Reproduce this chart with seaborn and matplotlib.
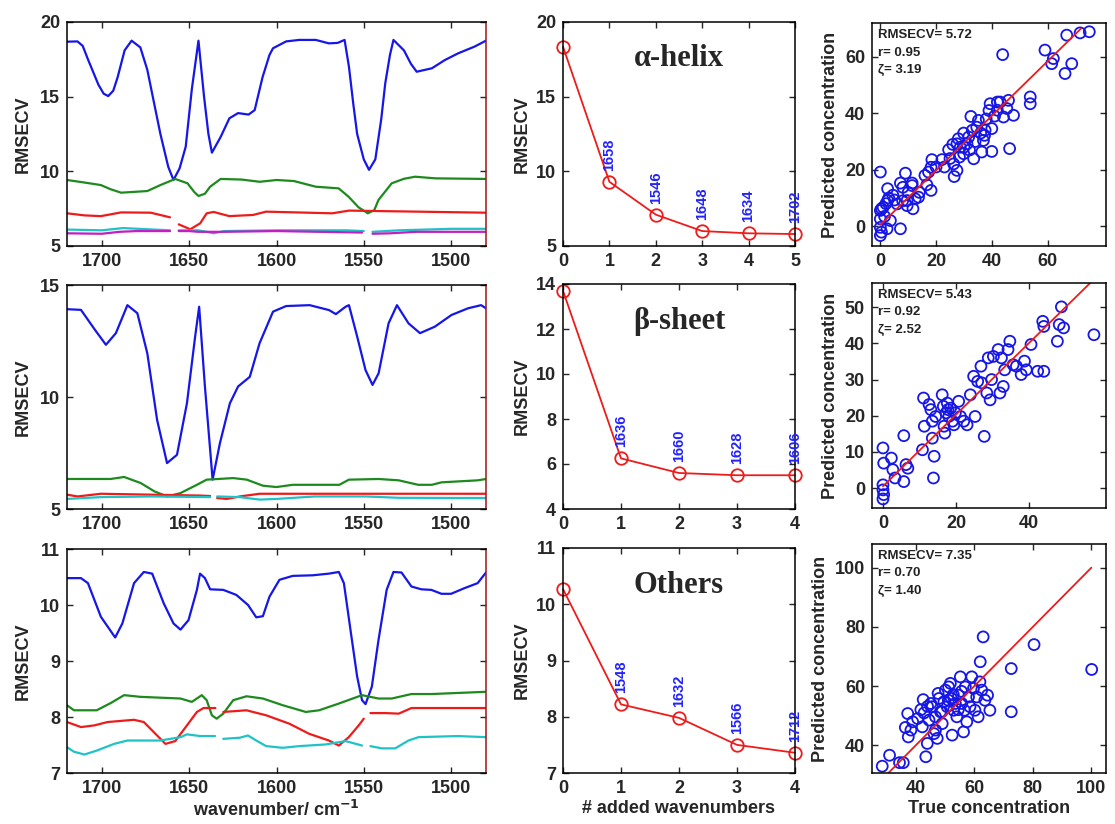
import matplotlib
matplotlib.use("Agg")
import matplotlib.pyplot as plt
import seaborn as sns
import pandas as pd

# ---------------- data ----------------
# Left column: RMSECV vs wavenumber, (wavenumber, RMSECV); None marks a gap
A_BLUE = [(1720,18.68),(1714,18.7),(1711,18.4),(1708,17.5),(1702,15.8),(1699,15.2),(1696.4,15.04),(1693.5,15.4),
          (1691,16.3),(1687,18.1),(1683,18.75),(1678,18.3),(1674,16.8),(1670,14.5),(1666.5,12.5),(1662,10.3),
          (1659,9.42),(1655.5,10.2),(1652,11.65),(1648.5,15.5),(1644.7,18.75),(1641.5,15.0),(1639,12.5),(1637,11.25),
          (1632,12.3),(1627,13.55),(1622,13.9),(1616,13.8),(1612.5,14.1),(1608,16.3),(1604,17.8),(1602,18.24),
          (1594.5,18.7),(1587,18.8),(1577.5,18.8),(1570,18.57),(1565,18.6),(1561,18.8),(1558.5,17.0),(1556,14.5),
          (1553.8,12.5),(1550,10.8),(1547,10.1),(1543.4,10.8),(1540,13.5),(1537.7,15.9),(1535,17.8),(1533,18.8),
          (1527,18.1),(1523,17.2),(1519.7,16.67),(1511,16.9),(1503.6,17.45),(1496,17.9),(1486.6,18.35),(1480,18.75)]
A_GREEN = [(1720,9.42),(1710,9.25),(1700.6,9.08),(1695,8.8),(1689,8.57),(1674,8.68),(1666.5,9.08),(1658,9.49),
           (1651,9.2),(1647,8.6),(1644.7,8.35),(1641,8.5),(1638,8.97),(1632,9.49),(1620,9.45),(1609.6,9.3),
           (1600,9.42),(1590,9.35),(1577.5,8.97),(1564.4,8.86),(1558.7,8.3),(1553,7.59),(1547.7,7.19),(1544,7.4),
           (1541.6,8.08),(1534,9.2),(1527,9.5),(1520.6,9.64),(1509,9.53),(1480,9.49)]
A_RED = [(1720,7.19),(1710,7.05),(1700.6,7.0),(1689,7.25),(1672,7.23),(1661,6.92),None,(1656,6.45),(1649.4,6.12),
         (1643.7,6.52),(1640,7.19),(1636,7.28),(1627,7.0),(1613.4,7.08),(1606,7.3),(1568,7.19),(1558.5,7.37),(1480,7.23)]
A_CYAN = [(1720,6.1),(1700,6.05),(1688,6.2),(1670,6.1),(1661,6.05),None,(1656,6.05),(1645,6.05),(1640,5.95),
          (1636,5.85),(1630,6.0),(1600,6.05),(1560,6.05),(1550,6.0),None,(1545,5.95),(1530,6.05),(1500,6.15),(1480,6.15)]
A_MAGENTA = [(1720,5.85),(1700,5.82),(1690,5.95),(1680,6.0),(1661,6.0),None,(1656,6.0),(1650,6.0),(1645,5.95),
             (1630,5.95),(1600,6.0),(1551,5.9),None,(1545,5.82),(1535,5.85),(1520,5.95),(1480,5.95)]

B_BLUE = [(1720,13.92),(1712,13.89),(1704,13.0),(1697.7,12.33),(1692,12.85),(1685.4,14.1),(1679.7,13.74),(1674,11.95),
          (1668.4,8.98),(1662.7,7.05),(1657,7.42),(1651.3,9.72),(1646.6,12.7),(1644.3,14.03),(1641,10.47),(1636.6,6.31),
          (1632.4,7.94),(1626.7,9.72),(1622,10.47),(1615.3,10.9),(1609.7,12.4),(1602,13.81),(1594.5,14.06),(1581,14.1),
          (1569.9,13.88),(1566,13.7),(1560.4,14.03),(1558.5,14.1),(1553.8,12.7),(1549,11.2),(1545,10.54),(1541.5,11.06),
          (1535.8,13.29),(1531,14.1),(1524.4,13.29),(1517.8,12.85),(1509.3,13.14),(1499.8,13.66),(1490.3,13.96),
          (1482.8,14.1),(1480,13.96)]
B_GREEN = [(1720,6.34),(1695,6.34),(1687.3,6.43),(1677.8,6.16),(1670,5.79),(1662.7,5.56),(1655,5.71),(1645.6,6.08),
           (1640,6.31),(1624.8,6.38),(1617,6.31),(1607.8,6.04),(1600,5.98),(1590.7,6.08),(1564,6.08),(1558.5,6.31),
           (1541.5,6.34),(1530,6.28),(1518.8,6.08),(1511,6.08),(1505.5,6.19),(1484.7,6.28),(1480,6.34)]
B_RED = [(1720,5.64),(1714,5.56),(1700.6,5.68),(1643.8,5.6),(1638,5.58),None,(1634,5.49),(1628.6,5.45),(1621,5.56),
         (1609.7,5.68),(1480,5.68)]
B_CYAN = [(1720,5.45),(1700.6,5.53),(1672,5.56),(1638,5.53),None,(1634,5.56),(1621,5.53),(1609.7,5.42),(1600,5.45),
          (1578,5.56),(1549,5.56),(1530,5.5),(1480,5.49)]

O_BLUE = [(1720,10.48),(1712,10.48),(1708,10.39),(1700.6,9.79),(1692.4,9.42),(1688.3,9.67),(1681.6,10.39),(1676,10.59),
          (1671.2,10.56),(1664.6,10.03),(1659,9.67),(1655,9.56),(1650.4,9.73),(1645.6,10.27),(1643.8,10.56),(1641,10.48),
          (1638,10.28),(1630.5,10.27),(1623,10.18),(1616.3,10.0),(1611.6,9.78),(1607.8,9.80),(1604,10.15),(1598.3,10.45),
          (1590.7,10.52),(1579.4,10.53),(1570,10.56),(1564.3,10.59),(1561.4,10.39),(1557.6,9.55),(1553.8,8.72),(1551,8.3),
          (1549,8.23),(1545.4,8.54),(1541.6,9.37),(1536.9,10.27),(1533,10.59),(1528.4,10.58),(1522.7,10.33),(1517,10.28),
          (1511.3,10.27),(1505.5,10.2),(1500,10.2),(1492.4,10.3),(1484.8,10.39),(1480,10.58)]
O_GREEN = [(1720,8.21),(1716,8.12),(1703,8.12),(1694.9,8.25),(1687.3,8.39),(1678,8.36),(1655,8.33),(1648.5,8.27),
           (1642.8,8.39),(1640,8.3),(1637,8.03),(1634.3,7.97),(1630.5,8.06),(1624.8,8.3),(1617.2,8.37),(1607.8,8.33),
           (1596.4,8.21),(1583.2,8.09),(1575.6,8.12),(1564.3,8.24),(1551,8.39),(1541.6,8.33),(1534,8.33),(1522.7,8.41),
           (1511.3,8.41),(1480,8.45)]
O_RED = [(1720,7.91),(1712,7.82),(1704.4,7.85),(1696.8,7.91),(1681.6,7.95),(1676,7.91),(1670.3,7.73),(1663.6,7.52),
         (1658,7.57),(1651.3,7.85),(1645.6,8.09),(1641.8,8.16),(1635,8.16),None,(1630.5,8.09),(1617.2,8.12),(1605.9,8.03),
         (1592.6,7.88),(1581.3,7.7),(1570,7.58),(1564.3,7.49),(1558.6,7.64),(1552.9,7.85),(1550,7.97),None,(1546.2,8.07),
         (1537.7,8.07),(1530,8.06),(1522.7,8.16),(1480,8.16)]
O_CYAN = [(1720,7.46),(1716,7.38),(1710,7.33),(1703,7.4),(1693,7.52),(1685.4,7.58),(1666.5,7.58),(1655,7.64),
          (1651.3,7.69),(1643.8,7.66),(1635.2,7.66),None,(1630.5,7.61),(1621,7.63),(1616.3,7.67),(1611.6,7.58),
          (1605.9,7.48),(1596.4,7.45),(1587,7.48),(1571.8,7.51),(1560.4,7.57),(1551,7.49),None,(1546.2,7.48),
          (1539.6,7.44),(1532,7.44),(1524.4,7.58),(1518.7,7.64),(1496.2,7.66),(1480,7.64)]

# Middle column: RMSECV vs number of added wavenumbers
A_STEPS = [0, 1, 2, 3, 4, 5]
A_RMSECV = [18.35, 9.3, 7.1, 6.0, 5.85, 5.8]
A_ADDED = ["", "1658", "1546", "1648", "1634", "1702"]
B_STEPS = [0, 1, 2, 3, 4]
B_RMSECV = [13.7, 6.25, 5.6, 5.5, 5.5]
B_ADDED = ["", "1636", "1660", "1628", "1606"]
O_STEPS = [0, 1, 2, 3, 4]
O_RMSECV = [10.27, 8.22, 7.98, 7.5, 7.36]
O_ADDED = ["", "1548", "1632", "1566", "1712"]
TITLES = ["\u03b1-helix", "\u03b2-sheet", "Others"]

# Right column: predicted vs true concentration
A_TRUE = [0,0.4,0,1,0,0,0.4,0,2.6,2.6,3.6,2.4,5.1,6,7.2,7.2,8.1,9,9.6,9.6,11.4,11.4,11.7,12.5,13.7,16.7,17.3,18.2,
          18.5,18.2,22.1,24.5,26.3,26.5,27.5,27.5,28.7,29.9,28.4,29.9,31.1,31.7,32.5,33.5,34.6,35.2,36.4,37,37.4,37.6,
          40,39.4,40,42,43,43.9,44.2,45.4,46,46.4,47.8,53.8,53.8,59.1,62.1,61.5,66.3,68.7,66.9,71.7,75,
          1.5,2,3,4.5,8,10,14,16,20,23,25,26,28,30,32,33,34,36,38,39,41,42]
A_PRED = [19.2,6.2,5.6,6.7,2.6,-0.4,-2.1,-3.3,13.3,9.1,2.0,-0.9,9.3,7.9,-0.9,15.3,13.8,18.8,9.1,7.3,15.3,14.4,6.2,9.7,
          10.3,14.7,19.2,12.7,23.6,20.9,23.6,27.1,22.1,17.6,19.8,29.2,28.0,33.0,24.5,25.7,29.2,31.6,38.9,23.9,35.1,
          37.5,26.3,30.4,32.2,34,26.5,43.4,34.6,41.1,44,60.8,38.7,41.7,44.6,27.5,39.3,45.8,43.4,62.4,59.4,57.6,54.1,
          57.6,67.7,68.5,68.9,
          3.5,8,10,11,9,12,12,18,21,21,24,29,31,28,27,34,30,33,38,41,39,44]
B_TRUE = [0,0.2,0,0,0.2,0,2.3,2.7,3.3,5.7,5.7,6.3,6.8,10.8,11.1,11.3,12.6,13.1,13.5,13.8,14,13.5,14.4,16.2,16.5,16.7,
          16.9,17.3,17.6,17.8,18,18.5,19,19.4,19.8,20.7,21.2,22.1,23,23.9,24.8,25.2,25.9,26.8,27,27.7,28.4,28.8,29.3,
          29.7,30.2,31.5,32,32.4,32.9,33.3,34.2,34.7,35.6,36.5,37.8,38.7,39.2,40.5,42.3,44,43.7,44,47.7,48.2,48.8,
          49.4,57.7]
B_PRED = [11.1,6.9,0.9,-0.5,-1.8,-3,8.3,5.1,2.8,14.5,1.8,6.5,5.5,10.6,24.9,17.1,23.1,21.7,18.5,2.8,8.8,13.8,19.8,25.8,
          22.6,17.1,15.2,20.8,23.5,21.7,19.8,22.1,18.5,17.5,20.8,24,19.8,18.5,17.5,25.8,30.9,19.8,29.5,33.7,29.1,14.3,
          26.3,36,24.4,30,36.4,38.3,26.3,36,28.1,32.7,38.3,40.6,34.1,33.7,31.4,35.1,32.7,39.7,32.3,32.3,46.1,44.7,
          40.6,45.2,50.1,44.3,42.4]
O_TRUE = [28.5,31,34.4,35.7,36.4,37.2,37.4,38.3,38.9,40.6,42.2,42.5,42.8,43.4,43.9,44.5,45.1,45.6,46.2,46.7,46.7,47.3,
          47.6,47.9,48.4,49,49.6,50.1,50.7,51.2,51.8,52.1,52.4,52.9,53.5,54,54.6,55.2,55.7,56.3,56.9,57.4,58,58.5,
          59.1,59.7,60.2,60.8,61.3,61.9,62,62.5,63,63.6,64.5,65.3,72.6,72.6,80.4,100.1,
          41.7,44,48.9,51.1,52.8,54.5,56.6,55.6]
O_PRED = [32.9,36.6,34.1,34.1,46,50.7,42.8,45.1,47.9,49,46.2,55.4,50.9,36.1,40.6,48.5,54.1,53,43.9,45.1,49.6,42.3,57.5,
          55.8,51.3,47.3,54.7,58.6,53,59.7,60.9,55.8,43.4,51.8,54.1,49.6,56.9,63.1,54.1,44.5,59.7,47.9,56.3,53,63.1,
          59.2,51.8,56.3,49.6,61.4,68.2,58.6,76.6,55.2,56.9,51.8,65.9,51.3,74,65.6,
          52,53.1,51.3,55.2,57.1,52,51.8,58.2]
LINE_X = [[0, 72], [0, 60], [28, 100]]
LINE_Y = [[0.5, 70], [0.5, 60], [28, 100]]
STATS = [["RMSECV= 5.72", "r= 0.95", "\u03b6= 3.19"],
         ["RMSECV= 5.43", "r= 0.92", "\u03b6= 2.52"],
         ["RMSECV= 7.35", "r= 0.70", "\u03b6= 1.40"]]

# ---------------- style ----------------
sns.set_style("ticks")
plt.rcParams["font.family"] = ["Liberation Sans", "DejaVu Sans"]
plt.rcParams["font.weight"] = "bold"
plt.rcParams["axes.labelweight"] = "bold"

BLUE = "#1616e8"
GREEN = "#1e8a1e"
RED = "#ee1b1b"
CYAN = "#1fc3c6"
MAGENTA = "#c21ec2"
LABEL_BLUE = "#2222ff"

W, H = 1115, 824
fig = plt.figure(figsize=(W / 100, H / 100), dpi=100, facecolor="white")


def add_ax(x0, x1, y0, y1):
    return fig.add_axes([x0 / W, 1 - y1 / H, (x1 - x0) / W, (y1 - y0) / H])


def style_ax(ax, spine_right=None):
    ax.tick_params(direction="in", top=True, right=True, length=4, width=1,
                   labelsize=13, pad=5)
    for lab in ax.get_xticklabels() + ax.get_yticklabels():
        lab.set_fontweight("bold")
    for s in ax.spines.values():
        s.set_linewidth(1.1)
        s.set_color("black")
    if spine_right:
        ax.spines["right"].set_color(spine_right)


def draw_curve(ax, pts, color):
    seg = []
    segs = []
    for p in pts:
        if p is None:
            segs.append(seg)
            seg = []
        else:
            seg.append(p)
    segs.append(seg)
    for s in segs:
        if len(s) < 2:
            continue
        df = pd.DataFrame(s, columns=["wn", "val"])
        sns.lineplot(data=df, x="wn", y="val", ax=ax, color=color, lw=1.6,
                     sort=False, estimator=None)


rows = [(22, 246), (285, 509), (549, 773)]
mid_rows = [(22, 246), (284, 509), (548, 773)]
right_rows = [(23, 246), (283, 508), (544, 773)]

left_sets = [
    ([A_BLUE, A_GREEN, A_RED, A_CYAN, A_MAGENTA], (5, 20), [5, 10, 15, 20]),
    ([B_BLUE, B_GREEN, B_RED, B_CYAN], (5, 15), [5, 10, 15]),
    ([O_BLUE, O_GREEN, O_RED, O_CYAN], (7, 11), [7, 8, 9, 10, 11]),
]
colors = [BLUE, GREEN, RED, CYAN, MAGENTA]

for i, (curves, ylim, yt) in enumerate(left_sets):
    ax = add_ax(67, 486, *rows[i])
    for c, col in zip(curves, colors):
        draw_curve(ax, c, col)
    ax.set_xlim(1720, 1480)
    ax.set_ylim(*ylim)
    ax.set_xticks([1700, 1650, 1600, 1550, 1500])
    ax.set_yticks(yt)
    ax.set_ylabel("RMSECV", fontsize=13, fontweight="bold", labelpad=6)
    ax.set_xlabel("")
    style_ax(ax, spine_right="#a01515")
    if i == 2:
        ax.set_xlabel("wavenumber/ cm$^{\\mathbf{-1}}$", fontsize=13, fontweight="bold", labelpad=2)

mid_sets = [
    (A_STEPS, A_RMSECV, A_ADDED, (5, 20), [5, 10, 15, 20], (0, 5)),
    (B_STEPS, B_RMSECV, B_ADDED, (4, 14), [4, 6, 8, 10, 12, 14], (0, 4)),
    (O_STEPS, O_RMSECV, O_ADDED, (7, 11), [7, 8, 9, 10, 11], (0, 4)),
]
for i, (xs, ys, labs, ylim, yt, xlim) in enumerate(mid_sets):
    ax = add_ax(563, 795, *mid_rows[i])
    sns.lineplot(x=xs, y=ys, ax=ax, color=RED, lw=1.3, marker="o",
                 markersize=9, markerfacecolor="none", markeredgecolor=RED,
                 markeredgewidth=1.3, clip_on=False)
    for x, y, t in zip(xs, ys, labs):
        if t:
            ax.annotate(t, (x, y), xytext=(0, 8), textcoords="offset points",
                        rotation=90, ha="center", va="bottom", color=LABEL_BLUE,
                        fontsize=10.5, fontweight="bold", annotation_clip=False,
                        clip_on=False)
    ax.text(0.5, 0.835, TITLES[i], transform=ax.transAxes, ha="center", va="center",
            fontsize=22, fontweight="bold", family=["Liberation Serif", "DejaVu Serif"])
    ax.set_xlim(*xlim)
    ax.set_ylim(*ylim)
    ax.set_xticks(list(range(xlim[0], xlim[1] + 1)))
    ax.set_yticks(yt)
    ax.set_ylabel("RMSECV", fontsize=13, fontweight="bold", labelpad=4)
    ax.set_xlabel("")
    style_ax(ax)
    if i == 2:
        ax.set_xlabel("# added wavenumbers", fontsize=13, fontweight="bold", labelpad=2)

right_sets = [
    (A_TRUE, A_PRED, (-3, 81), (-7, 72), [0, 20, 40, 60], [0, 20, 40, 60]),
    (B_TRUE, B_PRED, (-3, 61), (-5.5, 56.7), [0, 20, 40], [0, 10, 20, 30, 40, 50]),
    (O_TRUE, O_PRED, (25, 105), (30.6, 108), [40, 60, 80, 100], [40, 60, 80, 100]),
]
for i, (tx, py, xlim, ylim, xt, yt) in enumerate(right_sets):
    ax = add_ax(872, 1106, *right_rows[i])
    sns.scatterplot(x=tx, y=py, ax=ax, s=62, marker="o", facecolor="none",
                    edgecolor=BLUE, linewidth=1.3)
    sns.lineplot(x=LINE_X[i], y=LINE_Y[i], ax=ax, color=RED, lw=1.3)
    ax.set_xlim(*xlim)
    ax.set_ylim(*ylim)
    ax.set_xticks(xt)
    ax.set_yticks(yt)
    h = right_rows[i][1] - right_rows[i][0]
    for k, t in enumerate(STATS[i]):
        ax.text(0.027, 1 - (12 + 17.5 * k) / h, t, transform=ax.transAxes,
                ha="left", va="center", fontsize=9.5, fontweight="bold", color="#222222")
    ax.set_ylabel("Predicted concentration", fontsize=13, fontweight="bold", labelpad=4)
    ax.set_xlabel("")
    style_ax(ax)
    if i == 2:
        ax.set_xlabel("True concentration", fontsize=13, fontweight="bold", labelpad=2)

fig.savefig("out.png", dpi=100, facecolor="white")
